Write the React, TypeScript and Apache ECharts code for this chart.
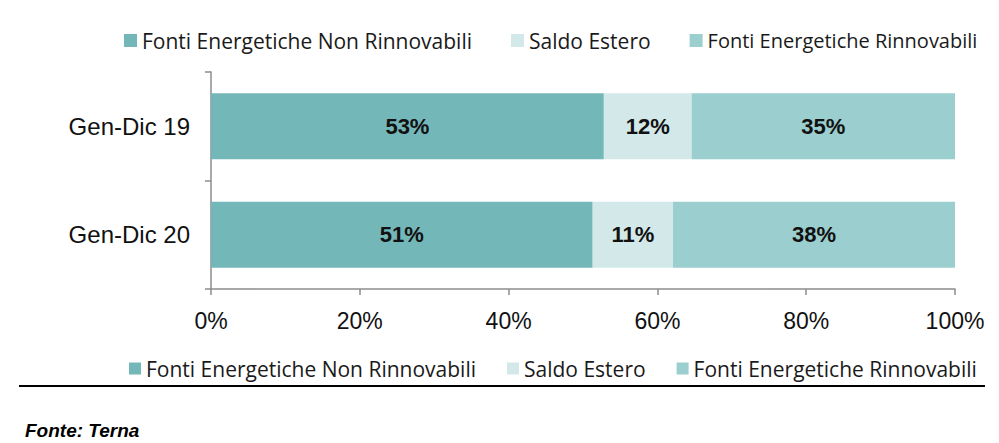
import { useEffect, useRef } from 'react';
import * as echarts from 'echarts';

const categories = ['Gen-Dic 19', 'Gen-Dic 20'];
const nonRinnovabili = [52.8, 51.3];
const saldoEstero = [11.8, 10.8];
const rinnovabili = [35.4, 37.9];
const seriesNames = ['Fonti Energetiche Non Rinnovabili', 'Saldo Estero', 'Fonti Energetiche Rinnovabili'];
const seriesColors = ['#74B7B8', '#D2E8E9', '#9BCECF'];
const xTicks = [0, 20, 40, 60, 80, 100];

const legendText = { fontFamily: 'Open Sans', fontSize: 21, color: '#1a1a1a' };

export default function App() {
  const chartRef = useRef<HTMLDivElement | null>(null);

  useEffect(() => {
    document.body.style.margin = '0';
    if (!chartRef.current) return undefined;
    const chart = echarts.init(chartRef.current, undefined, { renderer: 'svg' });

    const values = [nonRinnovabili, saldoEstero, rinnovabili];
    const series = values.map((data, i) => ({
      name: seriesNames[i],
      type: 'bar',
      stack: 'total',
      data,
      barWidth: '61%',
      itemStyle: { color: seriesColors[i] },
      label: {
        show: true,
        position: 'inside',
        formatter: (p: { value: number }) => `${Math.round(p.value)}%`,
        fontFamily: 'Liberation Sans',
        fontWeight: 'bold',
        fontSize: 22,
        color: '#111',
      },
    }));

    const legendBase = {
      icon: 'rect',
      textStyle: legendText,
      selectedMode: false,
    };

    // top legend: last label is set a touch narrower, as in the original
    const topLegendData = seriesNames.map((name, i) =>
      i === 2 ? { name, textStyle: { fontSize: 20 } } : { name },
    );

    chart.setOption({
      animation: false,
      legend: [
        { ...legendBase, data: topLegendData, left: 119, top: 25, itemWidth: 13, itemHeight: 13, itemGap: 39 },
        { ...legendBase, data: seriesNames, left: 124, top: 353, itemWidth: 12, itemHeight: 12, itemGap: 31 },
      ],
      grid: { left: 211, right: 44, top: 72, bottom: 154 },
      xAxis: {
        type: 'value',
        min: 0,
        max: 100,
        interval: 20,
        axisLine: { show: true, lineStyle: { color: '#8c8c8c', width: 1.5 } },
        axisTick: { show: true, length: 6, lineStyle: { color: '#8c8c8c', width: 1.5 } },
        splitLine: { show: false },
        axisLabel: {
          formatter: (v: number) => (xTicks.includes(v) ? `${v}%` : ''),
          fontFamily: 'Liberation Sans',
          fontSize: 23,
          color: '#111',
          margin: 20,
        },
      },
      yAxis: {
        type: 'category',
        data: categories,
        inverse: true,
        axisLine: { show: true, lineStyle: { color: '#8c8c8c', width: 1.5 } },
        axisTick: { show: true, length: 6, lineStyle: { color: '#8c8c8c', width: 1.5 } },
        axisLabel: {
          fontFamily: 'Liberation Sans',
          fontSize: 24,
          color: '#111',
          margin: 21,
        },
      },
      graphic: [
        {
          type: 'line',
          shape: { x1: 19, y1: 386, x2: 985, y2: 386 },
          style: { stroke: '#000', lineWidth: 2 },
        },
        {
          type: 'text',
          left: 25,
          top: 421,
          style: {
            text: 'Fonte: Terna',
            font: 'italic bold 19px "Liberation Sans"',
            fill: '#000',
          },
        },
      ],
      series,
    });

    return () => {
      chart.dispose();
    };
  }, []);

  return <div ref={chartRef} style={{ width: 999, height: 443 }} />;
}
